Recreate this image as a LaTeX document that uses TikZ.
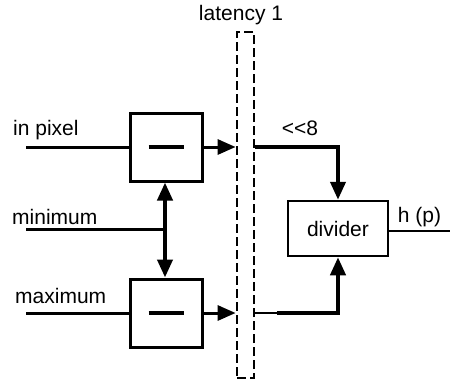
\documentclass[tikz,border=0pt]{standalone}
\usepackage{fontspec}
\setmainfont{Liberation Sans}
\usetikzlibrary{arrows.meta}
\begin{document}
\begin{tikzpicture}[x=1pt,y=-1pt,
  font=\fontsize{21}{24}\selectfont,
  opbox/.style={draw,line width=3pt,minimum width=72pt,minimum height=68pt,inner sep=0pt},
  divbox/.style={draw,line width=2.5pt,minimum width=100pt,minimum height=55pt,inner sep=0pt},
  regbar/.style={draw,line width=2.8pt,dash pattern=on 9pt off 4pt,minimum width=17pt,minimum height=346pt,inner sep=0pt},
  wire/.style={line width=3pt},
  thinwire/.style={line width=2.5pt},
  thickwire/.style={line width=4pt},
  arr/.style={-{Triangle[length=18pt,width=15pt]}},
  lbl/.style={inner sep=0pt}
]
\useasboundingbox (0,0) rectangle (450,381);

% register stage
\node[regbar] (bar) at (245.5,205) {};
\node[lbl] (lat) at (241,15) {latency 1};

% subtractors
\node[opbox] (sub1) at (166,147) {};
\node[opbox] (sub2) at (166,313) {};
\draw[line width=3.5pt] ([xshift=-17.5pt]sub1.center) -- ([xshift=17.5pt]sub1.center);
\draw[line width=3.5pt] ([xshift=-17.5pt]sub2.center) -- ([xshift=17.5pt]sub2.center);

% divider
\node[divbox] (div) at (338,228.5) {divider};

% inputs
\coordinate (inpx) at (26,147);
\coordinate (inmin) at (26,229);
\coordinate (inmax) at (26,313);
\coordinate (j) at (165,229);
\node[lbl,anchor=west] (lpx) at (13,130) {in pixel};
\node[lbl,anchor=west] (lmin) at (12,217) {minimum};
\node[lbl,anchor=west] (lmax) at (15,296) {maximum};

\draw[wire] (inpx) -- (sub1.west);
\draw[wire] (inmax) -- (sub2.west);
\draw[wire] (inmin) -- (j);
\draw[thickwire,arr] (j) -- (j |- sub1.south);
\draw[thickwire,arr] (j) -- (j |- sub2.north);

% into the register
\draw[wire,arr] (sub1.east) -- (bar.west |- sub1.east);
\draw[wire,arr] (sub2.east) -- (bar.west |- sub2.east);

% out of the register into the divider
\coordinate (b1) at (bar.east |- sub1.east);
\coordinate (b2) at (bar.east |- sub2.east);
\coordinate (k2) at (277,313);
\node[lbl] (shift) at (300,128) {<{}<8};
\draw[thickwire,arr] (b1) -- (div.north |- b1) -- (div.north);
\draw[thinwire] (b2) -- (k2);
\draw[thickwire,arr] (k2) -- (div.south |- k2) -- (div.south);

% output
\coordinate (out) at (450,231);
\draw[thinwire] (div.east |- out) -- (out);
\node[lbl] (hp) at (419.5,217) {h (p)};
\end{tikzpicture}
\end{document}
